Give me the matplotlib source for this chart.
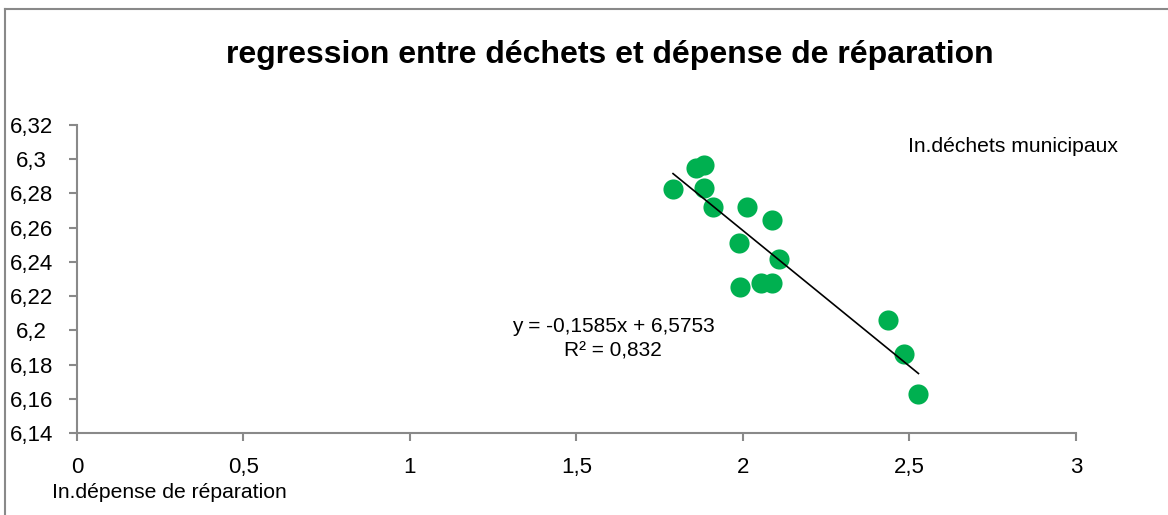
import matplotlib
matplotlib.use("Agg")
import matplotlib.pyplot as plt
import numpy as np
from matplotlib.lines import Line2D

plt.rcParams['font.family'] = ['Liberation Sans', 'DejaVu Sans']

# ln dépense de réparation / ln déchets municipaux
x_vals = [1.790, 1.860, 1.883, 1.883, 1.911, 2.013, 2.086, 1.989, 2.107, 1.992, 2.055, 2.086, 2.436, 2.484, 2.527]
y_vals = [6.2824, 6.2949, 6.2964, 6.2833, 6.2721, 6.2721, 6.2647, 6.2511, 6.2414, 6.2256, 6.2274, 6.2274, 6.2063, 6.1859, 6.1630]

slope = -0.1585
intercept = 6.5753
r2 = 0.832

x_ticks = [0, 0.5, 1, 1.5, 2, 2.5, 3]
x_labels = ["0", "0,5", "1", "1,5", "2", "2,5", "3"]
y_ticks = [6.14, 6.16, 6.18, 6.2, 6.22, 6.24, 6.26, 6.28, 6.3, 6.32]
y_labels = ["6,14", "6,16", "6,18", "6,2", "6,22", "6,24", "6,26", "6,28", "6,3", "6,32"]

grey = "#898989"

fig = plt.figure(figsize=(11.68, 5.15), dpi=100)
ax = fig.add_axes([0.0659, 0.1592, 0.9212 - 0.0659, 0.7573 - 0.1592])

ax.scatter(x_vals, y_vals, s=210, color="#00B050", zorder=2, linewidths=0)

xs = np.array([min(x_vals), max(x_vals)])
ax.plot(xs, slope * xs + intercept, color="black", lw=1.2, zorder=3)

ax.set_xlim(0, 3)
ax.set_ylim(6.14, 6.32)
ax.set_xticks(x_ticks)
ax.set_xticklabels(x_labels)
ax.set_yticks(y_ticks)
ax.set_yticklabels(y_labels, ha="center")

for s in ["top", "right"]:
    ax.spines[s].set_visible(False)
for s in ["left", "bottom"]:
    ax.spines[s].set_color(grey)
    ax.spines[s].set_linewidth(1.5)

ax.tick_params(axis="x", direction="out", length=6, width=1.5, color=grey,
               labelsize=16, pad=11)
ax.tick_params(axis="y", direction="out", length=6, width=1.5, color=grey,
               labelsize=16, pad=27)

ax.text(1.61, 6.1952, "y = -0,1585x + 6,5753\nR² = 0,832", ha="center", va="center",
        fontsize=15, linespacing=1.4)

fig.text(0.522, 0.893, "regression entre déchets et dépense de réparation",
         ha="center", va="center", fontsize=23, fontweight="bold")
fig.text(0.777, 0.7146, "In.déchets municipaux", ha="left", va="center", fontsize=15.2)
fig.text(0.0445, 0.043, "In.dépense de réparation", ha="left", va="center", fontsize=15.2)

# chart frame
fig.add_artist(Line2D([0.0047, 0.0047], [0, 0.982], transform=fig.transFigure,
                      color=grey, lw=1.5))
fig.add_artist(Line2D([0.0047, 1], [0.982, 0.982], transform=fig.transFigure,
                      color=grey, lw=1.5))

fig.savefig("out.png", dpi=100)
